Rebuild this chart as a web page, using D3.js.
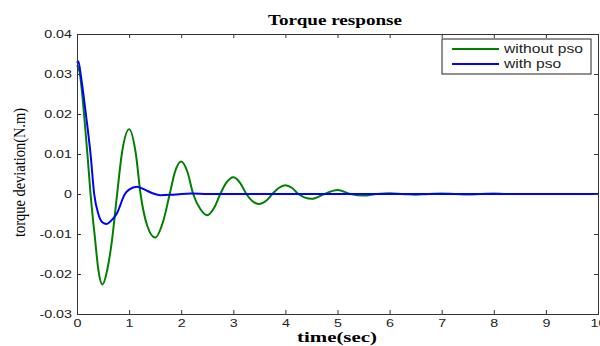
<!DOCTYPE html>
<html>
<head>
<meta charset="utf-8">
<script src="https://cdn.jsdelivr.net/npm/d3@7"></script>
<style>
  body { margin: 0; background: #fff; }
  svg { display: block; }
  .tick text { font-family: "Liberation Sans", Arial, sans-serif; font-size: 11px; fill: #222; }
  .domain, .tick line { stroke: #333; }
</style>
</head>
<body>
<svg id="chart" width="600" height="346"></svg>
<script>
// values
var xTicks = [0, 1, 2, 3, 4, 5, 6, 7, 8, 9, 10];
var yTicks = [-0.03, -0.02, -0.01, 0, 0.01, 0.02, 0.03, 0.04];
var yTickLabels = ["-0.03", "-0.02", "-0.01", "0", "0.01", "0.02", "0.03", "0.04"];
var seriesNames = ["without pso", "with pso"];
var seriesColors = ["#008000", "#0000ff"];

var tWithout = [0, 0.05, 0.1, 0.135, 0.2, 0.26, 0.35, 0.41, 0.49, 0.58, 0.67, 0.77, 0.86, 1.0, 1.13, 1.22,
  1.35, 1.5, 1.65, 1.78, 1.88, 2.0, 2.12, 2.23, 2.37, 2.5, 2.63, 2.75, 2.87, 3.0, 3.13, 3.25, 3.37,
  3.5, 3.63, 3.75, 3.87, 4.0, 4.13, 4.25, 4.5, 4.75, 5.0, 5.25, 5.5, 5.75, 6.0, 6.25, 6.5, 6.75,
  7.0, 7.25, 7.5, 7.75, 8.0, 8.25, 10];
var vWithout = [0.0322, 0.0305, 0.025, 0.02, 0.01, 0, -0.0117, -0.019, -0.0226, -0.019, -0.0117, 0, 0.01,
  0.0162, 0.01, 0, -0.008, -0.0109, -0.007, 0, 0.0055, 0.0081, 0.0055, 0, -0.0038, -0.0053, -0.0035, 0,
  0.0029, 0.0042, 0.0028, 0, -0.0018, -0.0025, -0.0017, 0, 0.0015, 0.0022, 0.0015, 0, -0.0012, 0, 0.001,
  0, -0.0004, 0, 0.0002, 0, -0.0002, 0, 0.0001, 0, -0.0001, 0, 0.0001, 0, 0];

var tWith = [0, 0.025, 0.08, 0.17, 0.26, 0.33, 0.41, 0.48, 0.57, 0.66, 0.76, 0.92, 1.0, 1.15, 1.3,
  1.45, 1.6, 1.8, 2.0, 2.2, 2.5, 10];
var vWith = [0.0328, 0.0332, 0.029, 0.02, 0.01, 0, -0.005, -0.007, -0.0075, -0.0066, -0.005, 0,
  0.0011, 0.0018, 0.0011, 0.0002, -0.0003, -0.0002, 0, 0.0001, 0, 0];

var svg = d3.select("#chart");
var plotL = 77, plotR = 598, plotT = 34, plotB = 314;
var stretch = 1.3; // the picture is a bit wide, text looks stretched

var x = d3.scaleLinear().domain([0, 10]).range([plotL, plotR]);
var y = d3.scaleLinear().domain([-0.03, 0.04]).range([plotB, plotT]);

var line = d3.line().x(d => x(d[0])).y(d => y(d[1])).curve(d3.curveMonotoneX);

var series = [d3.zip(tWithout, vWithout), d3.zip(tWith, vWith)];
series.forEach(function (s, i) {
  svg.append("path").datum(s)
    .attr("d", line)
    .attr("fill", "none")
    .attr("stroke", seriesColors[i])
    .attr("stroke-width", 2);
});

// axes with ticks pointing inward, MATLAB style box
var xAxis = svg.append("g").attr("transform", "translate(0," + plotB + ")")
  .call(d3.axisBottom(x).tickValues(xTicks).tickSize(-4).tickPadding(5).tickFormat(d3.format("d")));
xAxis.selectAll("text").attr("transform", "scale(" + stretch + ",1)");

var yAxis = svg.append("g").attr("transform", "translate(" + plotL + ",0)")
  .call(d3.axisLeft(y).tickValues(yTicks).tickSize(-4).tickPadding(5)
    .tickFormat((d, i) => yTickLabels[i]));
yAxis.selectAll("text").attr("x", -5 / stretch).attr("transform", "scale(" + stretch + ",1)");

svg.append("g").attr("transform", "translate(0," + plotT + ")")
  .call(d3.axisTop(x).tickValues(xTicks).tickSize(-4).tickFormat(""));
svg.append("g").attr("transform", "translate(" + plotR + ",0)")
  .call(d3.axisRight(y).tickValues(yTicks).tickSize(-4).tickFormat(""));
svg.selectAll(".domain").attr("stroke-width", 1);

// titles
svg.append("text").attr("x", 268).attr("y", 25)
  .attr("textLength", 134).attr("lengthAdjust", "spacingAndGlyphs")
  .style("font-family", "'Liberation Serif', 'Times New Roman', serif")
  .style("font-size", "15px").style("font-weight", "bold").text("Torque response");

svg.append("text").attr("x", 297).attr("y", 342)
  .attr("textLength", 80).attr("lengthAdjust", "spacingAndGlyphs")
  .style("font-family", "'Liberation Serif', 'Times New Roman', serif")
  .style("font-size", "15px").style("font-weight", "bold").text("time(sec)");

svg.append("text").attr("transform", "translate(25,237) rotate(-90)")
  .attr("textLength", 129).attr("lengthAdjust", "spacingAndGlyphs")
  .style("font-family", "'Liberation Serif', 'Times New Roman', serif")
  .style("font-size", "16px").text("torque deviation(N.m)");

// legend
var legend = svg.append("g");
legend.append("rect").attr("x", 442).attr("y", 39).attr("width", 149).attr("height", 35)
  .attr("fill", "#fff").attr("stroke", "#222").attr("stroke-width", 1);
seriesNames.forEach(function (name, i) {
  var ly = 49 + i * 15;
  legend.append("line").attr("x1", 452).attr("x2", 499).attr("y1", ly).attr("y2", ly)
    .attr("stroke", seriesColors[i]).attr("stroke-width", 2);
  legend.append("text").attr("transform", "translate(504," + (ly + 4) + ") scale(" + stretch + ",1)")
    .style("font-family", "'Liberation Sans', Arial, sans-serif")
    .style("font-size", "12px").style("fill", "#222").text(name);
});
</script>
</body>
</html>
